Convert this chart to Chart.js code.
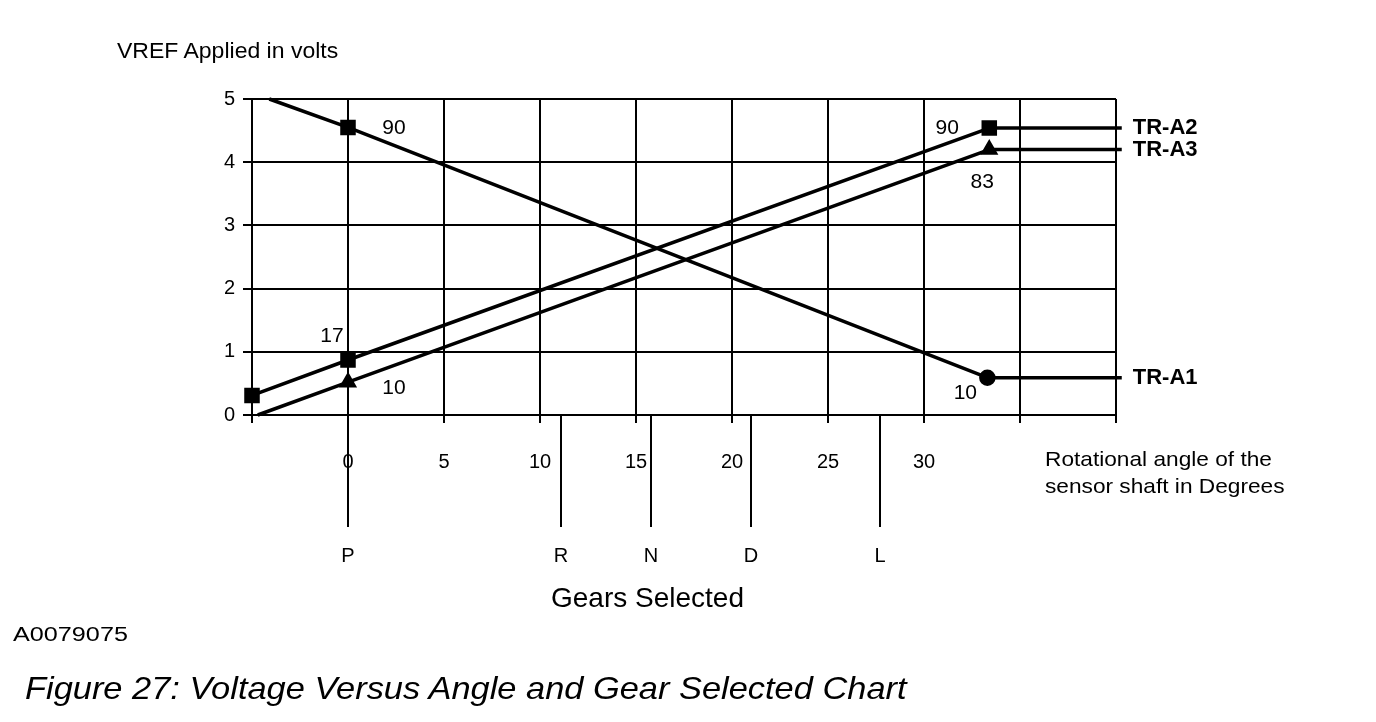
<!DOCTYPE html>
<html>
<head>
<meta charset="utf-8">
<title>Voltage Versus Angle and Gear Selected Chart</title>
<script src="https://cdn.jsdelivr.net/npm/chart.js@4.4.1/dist/chart.umd.min.js"></script>
<style>
  html, body { margin: 0; padding: 0; background: #fff; }
  #wrap { position: relative; width: 1376px; height: 722px; overflow: hidden;
          font-family: 'Liberation Sans', Arial, sans-serif; color: #000; }
  #wrap canvas { position: absolute; left: 0; top: 0; }
  .txt { position: absolute; line-height: 1; white-space: nowrap; transform-origin: 0 0; }
</style>
</head>
<body>
<div id="wrap">
  <canvas id="chart" width="1376" height="722"></canvas>
  <div class="txt" style="left:117px; top:41px; font-size:21.5px; transform:scaleX(1.07);">VREF Applied in volts</div>
  <div class="txt" style="left:1045px; top:445px; font-size:21px; line-height:27px; transform:scaleX(1.08);">Rotational angle of the<br>sensor shaft in Degrees</div>
  <div class="txt" style="left:551px; top:584px; font-size:28px;">Gears Selected</div>
  <div class="txt" style="left:13px; top:624px; font-size:20px; transform:scaleX(1.26);">A0079075</div>
  <div class="txt" style="left:25px; top:672px; font-size:32px; font-style:italic; transform:scaleX(1.075);">Figure 27: Voltage Versus Angle and Gear Selected Chart</div>
</div>
<script>
// angle axis (degrees) and voltage axis
const angleTicks = [0, 5, 10, 15, 20, 25, 30];
const voltTicks = [0, 1, 2, 3, 4, 5];

// sensor outputs
const a1Angle = [-4.1, 0, 33.3];
const a1Volts = [5.0, 4.55, 0.59];
const a1Pct = [null, 90, 10];

const a2Angle = [-5, 0, 33.4];
const a2Volts = [0.31, 0.87, 4.54];
const a2Pct = [null, 17, 90];

const a3Angle = [-4.7, 0, 33.4];
const a3Volts = [0, 0.52, 4.2];
const a3Pct = [null, 10, 83];

// where the name leader lines stop (just past the right edge)
const leaderEnd = 40.3;

// gear selector positions on the angle axis
const gearNames = ['P', 'R', 'N', 'D', 'L'];
const gearAngles = [0, 11.1, 15.8, 21.0, 27.7];

const FONT = "'Liberation Sans', Arial, sans-serif";
Chart.defaults.font.family = FONT;
Chart.defaults.color = '#000';

function pts(xs, ys) {
    return xs.map((x, i) => ({ x: x, y: ys[i] }));
}

function leader(xs, ys) {
    const last = xs.length - 1;
    return [{ x: xs[last], y: ys[last] }, { x: leaderEnd, y: ys[last] }];
}

function series(name, xs, ys, pct, styles, radii, shift) {
    return {
        label: name,
        data: pts(xs, ys),
        showLine: true,
        borderColor: '#000',
        borderWidth: 3.5,
        pointStyle: styles,
        pointRadius: radii,
        pointBackgroundColor: '#000',
        pointBorderColor: '#000',
        clip: false,
        pct: pct,
        pctShift: shift,
    };
}

function leaderLine(xs, ys) {
    return {
        data: leader(xs, ys),
        showLine: true,
        borderColor: '#000',
        borderWidth: 3.5,
        pointRadius: 0,
        clip: false,
    };
}

// gear lines under the axis, percentage notes and series names
const annotate = {
    id: 'annotate',
    afterDraw(chart) {
        const { ctx, chartArea, scales: { x } } = chart;
        ctx.save();
        ctx.fillStyle = '#000';
        ctx.strokeStyle = '#000';
        ctx.lineWidth = 2;
        ctx.textAlign = 'center';
        ctx.textBaseline = 'middle';
        ctx.font = '20px ' + FONT;
        gearAngles.forEach((g, i) => {
            const px = Math.round(x.getPixelForValue(g));
            ctx.beginPath();
            ctx.moveTo(px, chartArea.bottom);
            ctx.lineTo(px, chartArea.bottom + 112);
            ctx.stroke();
            ctx.fillText(gearNames[i], px, chartArea.bottom + 141);
        });

        chart.data.datasets.forEach((ds, di) => {
            if (!ds.pct) return;
            const meta = chart.getDatasetMeta(di);
            ctx.font = '21px ' + FONT;
            ctx.textAlign = 'center';
            ds.pct.forEach((p, i) => {
                if (p == null) return;
                const el = meta.data[i];
                ctx.fillText(String(p), el.x + ds.pctShift[i][0], el.y + ds.pctShift[i][1]);
            });
            const end = meta.data[meta.data.length - 1];
            ctx.font = 'bold 22px ' + FONT;
            ctx.textAlign = 'left';
            ctx.fillText(ds.label, x.getPixelForValue(leaderEnd) + 11, end.y);
        });
        ctx.restore();
    }
};

new Chart(document.getElementById('chart'), {
    type: 'scatter',
    data: {
        datasets: [
            series('TR-A1', a1Angle, a1Volts, a1Pct, ['circle', 'rect', 'circle'], [0, 8.5, 6.5],
                   [null, [46, 1], [-22, 15]]),
            series('TR-A2', a2Angle, a2Volts, a2Pct, ['rect', 'rect', 'rect'], [8.5, 8.5, 8.5],
                   [null, [-16, -24], [-42, 0]]),
            series('TR-A3', a3Angle, a3Volts, a3Pct, ['triangle', 'triangle', 'triangle'], [0, 7, 7],
                   [null, [46, 6], [-7, 33]]),
            leaderLine(a1Angle, a1Volts),
            leaderLine(a2Angle, a2Volts),
            leaderLine(a3Angle, a3Volts),
        ]
    },
    options: {
        responsive: false,
        animation: false,
        events: [],
        layout: { padding: { left: 192, top: 99, right: 260, bottom: 247 } },
        plugins: {
            legend: { display: false },
            tooltip: { enabled: false },
        },
        scales: {
            x: {
                type: 'linear',
                min: -5,
                max: 40,
                ticks: {
                    stepSize: 5,
                    autoSkip: false,
                    maxRotation: 0,
                    padding: 27,
                    font: { size: 20 },
                    callback: v => angleTicks.includes(v) ? String(v) : '',
                },
                grid: { color: '#000', lineWidth: 2, tickLength: 8, tickColor: '#000' },
                border: { color: '#000', width: 2 },
                afterFit: s => { s.height = 60; },
            },
            y: {
                min: 0,
                max: 5,
                afterBuildTicks: s => { s.ticks = voltTicks.map(v => ({ value: v })); },
                ticks: { padding: 8, font: { size: 20 } },
                grid: { color: '#000', lineWidth: 2, tickLength: 9, tickColor: '#000' },
                border: { color: '#000', width: 2 },
                afterFit: s => { s.width = 60; },
            }
        }
    },
    plugins: [annotate]
});
</script>
</body>
</html>
